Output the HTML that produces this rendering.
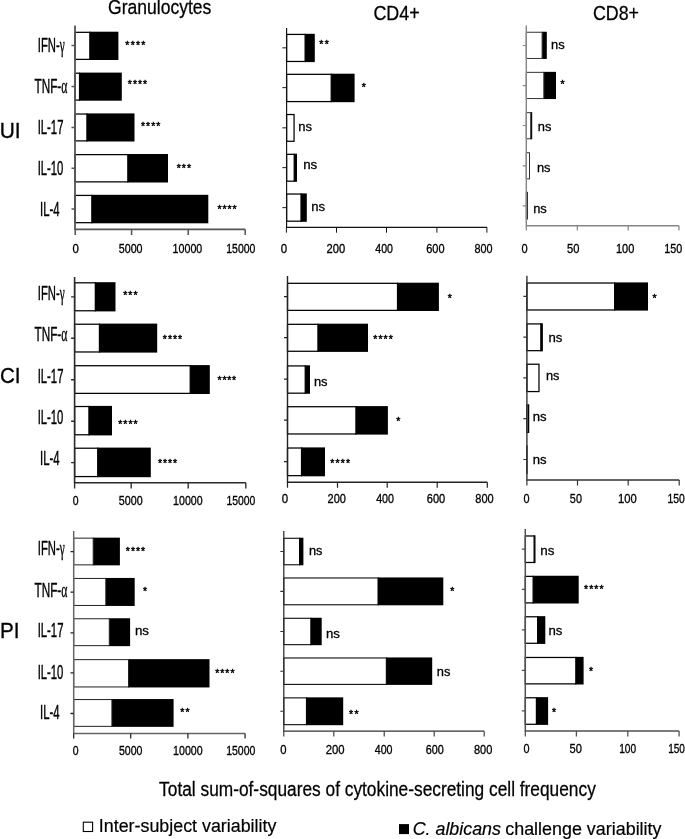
<!DOCTYPE html>
<html lang="en"><head><meta charset="utf-8"><title>Cytokine variability</title>
<style>html,body{margin:0;padding:0;background:#fff}body{width:685px;height:839px;overflow:hidden}svg{display:block;filter:blur(0.4px)}text{font-family:"Liberation Sans", sans-serif;fill:#000}</style>
</head><body>
<svg width="685" height="839" viewBox="0 0 685 839">
<rect width="685" height="839" fill="#fff"/>
<text transform="translate(108.12 14.10) scale(0.9086 1)" font-size="19.3" stroke="#000" stroke-width="0.25" vector-effect="non-scaling-stroke">Granulocytes</text>
<text transform="translate(373.39 19.70) scale(0.8824 1)" font-size="20.3" stroke="#000" stroke-width="0.25" vector-effect="non-scaling-stroke">CD4+</text>
<text transform="translate(592.89 19.50) scale(0.8784 1)" font-size="20.3" stroke="#000" stroke-width="0.25" vector-effect="non-scaling-stroke">CD8+</text>
<text transform="translate(-0.32 137.90) scale(0.9610 1)" font-size="21.8" stroke="#000" stroke-width="0.3" vector-effect="non-scaling-stroke">UI</text>
<text transform="translate(-0.05 382.90) scale(0.9475 1)" font-size="21.8" stroke="#000" stroke-width="0.3" vector-effect="non-scaling-stroke">CI</text>
<text transform="translate(-0.09 637.60) scale(0.9466 1)" font-size="21.8" stroke="#000" stroke-width="0.3" vector-effect="non-scaling-stroke">PI</text>
<text transform="translate(37.86 51.70) scale(0.5554 1)" font-size="20.3" stroke="#000" stroke-width="0.35" vector-effect="non-scaling-stroke">IFN-<tspan font-family="'Liberation Serif', serif">γ</tspan></text>
<text transform="translate(34.54 92.90) scale(0.5774 1)" font-size="20.3" stroke="#000" stroke-width="0.35" vector-effect="non-scaling-stroke">TNF-<tspan font-family="'Liberation Serif', serif">α</tspan></text>
<text transform="translate(37.65 134.10) scale(0.5579 1)" font-size="20.3" stroke="#000" stroke-width="0.35" vector-effect="non-scaling-stroke">IL-17</text>
<text transform="translate(37.66 175.00) scale(0.5550 1)" font-size="20.3" stroke="#000" stroke-width="0.35" vector-effect="non-scaling-stroke">IL-10</text>
<text transform="translate(40.05 216.10) scale(0.5598 1)" font-size="20.3" stroke="#000" stroke-width="0.35" vector-effect="non-scaling-stroke">IL-4</text>
<text transform="translate(37.86 299.60) scale(0.5554 1)" font-size="20.3" stroke="#000" stroke-width="0.35" vector-effect="non-scaling-stroke">IFN-<tspan font-family="'Liberation Serif', serif">γ</tspan></text>
<text transform="translate(34.54 341.00) scale(0.5774 1)" font-size="20.3" stroke="#000" stroke-width="0.35" vector-effect="non-scaling-stroke">TNF-<tspan font-family="'Liberation Serif', serif">α</tspan></text>
<text transform="translate(37.65 382.70) scale(0.5579 1)" font-size="20.3" stroke="#000" stroke-width="0.35" vector-effect="non-scaling-stroke">IL-17</text>
<text transform="translate(37.66 424.10) scale(0.5550 1)" font-size="20.3" stroke="#000" stroke-width="0.35" vector-effect="non-scaling-stroke">IL-10</text>
<text transform="translate(40.05 465.30) scale(0.5598 1)" font-size="20.3" stroke="#000" stroke-width="0.35" vector-effect="non-scaling-stroke">IL-4</text>
<text transform="translate(37.86 555.40) scale(0.5554 1)" font-size="20.3" stroke="#000" stroke-width="0.35" vector-effect="non-scaling-stroke">IFN-<tspan font-family="'Liberation Serif', serif">γ</tspan></text>
<text transform="translate(34.54 596.60) scale(0.5774 1)" font-size="20.3" stroke="#000" stroke-width="0.35" vector-effect="non-scaling-stroke">TNF-<tspan font-family="'Liberation Serif', serif">α</tspan></text>
<text transform="translate(37.65 637.20) scale(0.5579 1)" font-size="20.3" stroke="#000" stroke-width="0.35" vector-effect="non-scaling-stroke">IL-17</text>
<text transform="translate(37.66 678.60) scale(0.5550 1)" font-size="20.3" stroke="#000" stroke-width="0.35" vector-effect="non-scaling-stroke">IL-10</text>
<text transform="translate(40.05 719.30) scale(0.5598 1)" font-size="20.3" stroke="#000" stroke-width="0.35" vector-effect="non-scaling-stroke">IL-4</text>
<rect x="89.20" y="31.70" width="29.20" height="28.30" fill="#000"/>
<rect x="75.00" y="32.33" width="14.83" height="27.05" fill="#fff" stroke="#000" stroke-width="1.25"/>
<rect x="78.90" y="72.60" width="42.90" height="28.10" fill="#000"/>
<rect x="75.00" y="73.22" width="4.53" height="26.85" fill="#fff" stroke="#000" stroke-width="1.25"/>
<rect x="86.30" y="113.40" width="48.20" height="28.10" fill="#000"/>
<rect x="75.00" y="114.03" width="11.92" height="26.85" fill="#fff" stroke="#000" stroke-width="1.25"/>
<rect x="127.20" y="154.00" width="40.80" height="28.50" fill="#000"/>
<rect x="75.00" y="154.62" width="52.83" height="27.25" fill="#fff" stroke="#000" stroke-width="1.25"/>
<rect x="91.20" y="194.80" width="117.10" height="28.50" fill="#000"/>
<rect x="75.00" y="195.43" width="16.83" height="27.25" fill="#fff" stroke="#000" stroke-width="1.25"/>
<path d="M75.00 25.40V229.30H245.20" fill="none" stroke="#555" stroke-width="1.8"/>
<path d="M75.20 229.30v5.60M131.60 229.30v5.60M188.20 229.30v5.60M245.20 229.30v5.60M75.00 45.60h-3.50M75.00 86.60h-3.50M75.00 127.40h-3.50M75.00 168.20h-3.50M75.00 209.00h-3.50" fill="none" stroke="#555" stroke-width="1.53"/>
<text x="125.33 130.65 135.97 141.28" y="49.08" font-size="10.5" stroke="#000" stroke-width="0.45" stroke-linejoin="round">****</text>
<text x="127.83 132.92 138.00 143.08" y="87.78" font-size="10.5" stroke="#000" stroke-width="0.45" stroke-linejoin="round">****</text>
<text x="141.03 146.08 151.13 156.18" y="130.48" font-size="10.5" stroke="#000" stroke-width="0.45" stroke-linejoin="round">****</text>
<text x="176.63 181.76 186.88" y="171.78" font-size="10.5" stroke="#000" stroke-width="0.45" stroke-linejoin="round">***</text>
<text x="217.53 222.52 227.50 232.48" y="212.78" font-size="10.5" stroke="#000" stroke-width="0.45" stroke-linejoin="round">****</text>
<rect x="304.50" y="33.80" width="10.30" height="28.30" fill="#000"/>
<rect x="286.60" y="34.42" width="18.52" height="27.05" fill="#fff" stroke="#000" stroke-width="1.25"/>
<rect x="330.60" y="73.70" width="24.00" height="28.50" fill="#000"/>
<rect x="286.60" y="74.33" width="44.62" height="27.25" fill="#fff" stroke="#000" stroke-width="1.25"/>
<rect x="286.60" y="114.53" width="7.47" height="26.75" fill="#fff" stroke="#000" stroke-width="1.25"/>
<rect x="293.60" y="153.70" width="3.40" height="28.10" fill="#000"/>
<rect x="286.60" y="154.33" width="7.62" height="26.85" fill="#fff" stroke="#000" stroke-width="1.25"/>
<rect x="300.40" y="193.40" width="6.40" height="28.40" fill="#000"/>
<rect x="286.60" y="194.03" width="14.42" height="27.15" fill="#fff" stroke="#000" stroke-width="1.25"/>
<path d="M286.60 27.90V227.30H486.90" fill="none" stroke="#111" stroke-width="1.15"/>
<path d="M286.40 227.30v5.40M336.50 227.30v5.40M386.50 227.30v5.40M436.90 227.30v5.40M486.90 227.30v5.40M286.60 47.85h-4.20M286.60 87.65h-4.20M286.60 127.85h-4.20M286.60 167.65h-4.20M286.60 207.65h-4.20" fill="none" stroke="#111" stroke-width="0.98"/>
<rect x="541.60" y="31.75" width="5.20" height="27.20" fill="#000"/>
<rect x="526.30" y="32.25" width="15.80" height="26.20" fill="#fff" stroke="#333" stroke-width="1.0"/>
<rect x="543.30" y="71.85" width="12.70" height="27.20" fill="#000"/>
<rect x="526.30" y="72.35" width="17.50" height="26.20" fill="#fff" stroke="#333" stroke-width="1.0"/>
<rect x="530.20" y="112.15" width="2.00" height="27.10" fill="#000"/>
<rect x="526.30" y="112.65" width="4.40" height="26.10" fill="#fff" stroke="#333" stroke-width="1.0"/>
<rect x="526.30" y="152.75" width="3.20" height="26.10" fill="#fff" stroke="#333" stroke-width="1.0"/>
<rect x="526.30" y="192.35" width="1.20" height="26.70" fill="#fff" stroke="#333" stroke-width="1.0"/>
<path d="M526.30 25.50V225.80H679.00" fill="none" stroke="#858585" stroke-width="1.4"/>
<path d="M526.30 225.80v4.80M577.30 225.80v4.80M628.20 225.80v4.80M679.00 225.80v4.80M526.30 45.50h-3.50M526.30 85.60h-3.50M526.30 125.50h-3.50M526.30 165.80h-3.50M526.30 205.80h-3.50" fill="none" stroke="#858585" stroke-width="1.19"/>
<text x="319.23 324.78" y="47.58" font-size="10.5" stroke="#000" stroke-width="0.45" stroke-linejoin="round">**</text>
<text x="361.83" y="90.68" font-size="10.5" stroke="#000" stroke-width="0.45" stroke-linejoin="round">*</text>
<text transform="translate(298.24 131.10) scale(1.0746 1)" font-size="12.1" stroke="#000" stroke-width="0.3" vector-effect="non-scaling-stroke">ns</text>
<text transform="translate(303.22 169.00) scale(1.1006 1)" font-size="12.1" stroke="#000" stroke-width="0.3" vector-effect="non-scaling-stroke">ns</text>
<text transform="translate(311.13 211.00) scale(1.0833 1)" font-size="12.1" stroke="#000" stroke-width="0.3" vector-effect="non-scaling-stroke">ns</text>
<text transform="translate(551.04 48.50) scale(1.0660 1)" font-size="12.1" stroke="#000" stroke-width="0.3" vector-effect="non-scaling-stroke">ns</text>
<text x="560.43" y="88.38" font-size="10.5" stroke="#000" stroke-width="0.45" stroke-linejoin="round">*</text>
<text transform="translate(537.74 130.70) scale(1.0660 1)" font-size="12.1" stroke="#000" stroke-width="0.3" vector-effect="non-scaling-stroke">ns</text>
<text transform="translate(536.94 172.00) scale(1.0660 1)" font-size="12.1" stroke="#000" stroke-width="0.3" vector-effect="non-scaling-stroke">ns</text>
<text transform="translate(533.14 213.20) scale(1.0660 1)" font-size="12.1" stroke="#000" stroke-width="0.3" vector-effect="non-scaling-stroke">ns</text>
<rect x="94.70" y="282.20" width="20.80" height="29.20" fill="#000"/>
<rect x="74.60" y="282.82" width="20.73" height="27.95" fill="#fff" stroke="#000" stroke-width="1.25"/>
<rect x="98.80" y="323.60" width="58.40" height="29.00" fill="#000"/>
<rect x="74.60" y="324.22" width="24.83" height="27.75" fill="#fff" stroke="#000" stroke-width="1.25"/>
<rect x="189.60" y="365.10" width="20.20" height="28.90" fill="#000"/>
<rect x="74.60" y="365.72" width="115.62" height="27.65" fill="#fff" stroke="#000" stroke-width="1.25"/>
<rect x="88.30" y="405.90" width="23.70" height="29.50" fill="#000"/>
<rect x="74.60" y="406.52" width="14.33" height="28.25" fill="#fff" stroke="#000" stroke-width="1.25"/>
<rect x="97.10" y="447.60" width="53.70" height="29.60" fill="#000"/>
<rect x="74.60" y="448.22" width="23.12" height="28.35" fill="#fff" stroke="#000" stroke-width="1.25"/>
<path d="M74.60 276.90V482.80H245.80" fill="none" stroke="#2a2a2a" stroke-width="1.6"/>
<path d="M74.60 482.80v5.60M131.20 482.80v5.60M188.20 482.80v5.60M245.80 482.80v5.60M74.60 296.90h-3.50M74.60 338.30h-3.50M74.60 379.80h-3.50M74.60 421.20h-3.50M74.60 462.60h-3.50" fill="none" stroke="#2a2a2a" stroke-width="1.36"/>
<text x="123.23 128.36 133.48" y="299.08" font-size="10.5" stroke="#000" stroke-width="0.45" stroke-linejoin="round">***</text>
<text x="162.83 167.92 173.00 178.08" y="343.38" font-size="10.5" stroke="#000" stroke-width="0.45" stroke-linejoin="round">****</text>
<text x="217.53 222.38 227.23 232.08" y="384.18" font-size="10.5" stroke="#000" stroke-width="0.45" stroke-linejoin="round">****</text>
<text x="118.23 123.32 128.40 133.48" y="427.98" font-size="10.5" stroke="#000" stroke-width="0.45" stroke-linejoin="round">****</text>
<text x="157.93 162.98 168.03 173.08" y="466.78" font-size="10.5" stroke="#000" stroke-width="0.45" stroke-linejoin="round">****</text>
<rect x="396.90" y="282.70" width="42.00" height="28.30" fill="#000"/>
<rect x="287.50" y="283.32" width="110.02" height="27.05" fill="#fff" stroke="#000" stroke-width="1.25"/>
<rect x="317.30" y="323.70" width="50.70" height="28.20" fill="#000"/>
<rect x="287.50" y="324.32" width="30.43" height="26.95" fill="#fff" stroke="#000" stroke-width="1.25"/>
<rect x="304.60" y="365.30" width="5.40" height="28.50" fill="#000"/>
<rect x="287.50" y="365.92" width="17.73" height="27.25" fill="#fff" stroke="#000" stroke-width="1.25"/>
<rect x="355.30" y="406.10" width="32.60" height="28.50" fill="#000"/>
<rect x="287.50" y="406.72" width="68.43" height="27.25" fill="#fff" stroke="#000" stroke-width="1.25"/>
<rect x="300.90" y="447.40" width="24.10" height="28.90" fill="#000"/>
<rect x="287.50" y="448.02" width="14.02" height="27.65" fill="#fff" stroke="#000" stroke-width="1.25"/>
<path d="M287.50 276.10V482.30H487.30" fill="none" stroke="#222" stroke-width="1.4"/>
<path d="M287.50 482.30v5.50M337.50 482.30v5.50M387.20 482.30v5.50M437.20 482.30v5.50M487.30 482.30v5.50M287.50 296.60h-3.50M287.50 337.60h-3.50M287.50 379.20h-3.50M287.50 420.10h-3.50M287.50 461.60h-3.50" fill="none" stroke="#222" stroke-width="1.19"/>
<text x="447.83" y="302.38" font-size="10.5" stroke="#000" stroke-width="0.45" stroke-linejoin="round">*</text>
<text x="373.23 378.38 383.53 388.68" y="343.38" font-size="10.5" stroke="#000" stroke-width="0.45" stroke-linejoin="round">****</text>
<text x="396.13" y="424.98" font-size="10.5" stroke="#000" stroke-width="0.45" stroke-linejoin="round">*</text>
<text x="330.23 335.48 340.73 345.98" y="466.68" font-size="10.5" stroke="#000" stroke-width="0.45" stroke-linejoin="round">****</text>
<text transform="translate(313.94 386.00) scale(1.0660 1)" font-size="12.1" stroke="#000" stroke-width="0.3" vector-effect="non-scaling-stroke">ns</text>
<rect x="614.00" y="282.40" width="34.00" height="28.20" fill="#000"/>
<rect x="526.90" y="283.02" width="87.73" height="26.95" fill="#fff" stroke="#000" stroke-width="1.25"/>
<rect x="540.20" y="323.30" width="2.70" height="28.00" fill="#000"/>
<rect x="526.90" y="323.92" width="13.93" height="26.75" fill="#fff" stroke="#000" stroke-width="1.25"/>
<rect x="526.90" y="364.22" width="12.08" height="27.35" fill="#fff" stroke="#000" stroke-width="1.25"/>
<rect x="528.00" y="404.40" width="0.60" height="28.60" fill="#000"/>
<rect x="526.90" y="405.02" width="1.73" height="27.35" fill="#fff" stroke="#000" stroke-width="1.25"/>
<rect x="526.90" y="445.92" width="0.05" height="27.35" fill="#fff" stroke="#000" stroke-width="1.25"/>
<path d="M526.90 275.80V480.00H679.20" fill="none" stroke="#333" stroke-width="1.4"/>
<path d="M526.90 480.00v5.60M577.50 480.00v5.60M628.20 480.00v5.60M679.20 480.00v5.60M526.90 296.40h-3.50M526.90 337.20h-3.50M526.90 377.80h-3.50M526.90 418.60h-3.50M526.90 459.50h-3.50" fill="none" stroke="#333" stroke-width="1.19"/>
<text x="652.43" y="302.38" font-size="10.5" stroke="#000" stroke-width="0.45" stroke-linejoin="round">*</text>
<text transform="translate(548.42 341.80) scale(1.0920 1)" font-size="12.1" stroke="#000" stroke-width="0.3" vector-effect="non-scaling-stroke">ns</text>
<text transform="translate(545.95 380.00) scale(1.0573 1)" font-size="12.1" stroke="#000" stroke-width="0.3" vector-effect="non-scaling-stroke">ns</text>
<text transform="translate(532.63 421.40) scale(1.0833 1)" font-size="12.1" stroke="#000" stroke-width="0.3" vector-effect="non-scaling-stroke">ns</text>
<text transform="translate(532.63 463.50) scale(1.0833 1)" font-size="12.1" stroke="#000" stroke-width="0.3" vector-effect="non-scaling-stroke">ns</text>
<rect x="92.70" y="537.65" width="27.20" height="27.70" fill="#000"/>
<rect x="73.70" y="538.15" width="19.50" height="26.70" fill="#fff" stroke="#222" stroke-width="1.0"/>
<rect x="105.30" y="577.95" width="29.40" height="28.00" fill="#000"/>
<rect x="73.70" y="578.45" width="32.10" height="27.00" fill="#fff" stroke="#222" stroke-width="1.0"/>
<rect x="108.80" y="618.25" width="21.30" height="27.90" fill="#000"/>
<rect x="73.70" y="618.75" width="35.60" height="26.90" fill="#fff" stroke="#222" stroke-width="1.0"/>
<rect x="128.00" y="659.15" width="81.50" height="28.30" fill="#000"/>
<rect x="73.70" y="659.65" width="54.80" height="27.30" fill="#fff" stroke="#222" stroke-width="1.0"/>
<rect x="111.40" y="699.05" width="62.20" height="27.80" fill="#000"/>
<rect x="73.70" y="699.55" width="38.20" height="26.80" fill="#fff" stroke="#222" stroke-width="1.0"/>
<path d="M73.70 531.00V733.40H245.10" fill="none" stroke="#666" stroke-width="1.5"/>
<path d="M73.70 733.40v5.20M130.70 733.40v5.20M187.90 733.40v5.20M245.10 733.40v5.20M73.70 551.70h-3.20M73.70 592.10h-3.20M73.70 632.80h-3.20M73.70 672.90h-3.20M73.70 713.50h-3.20" fill="none" stroke="#222" stroke-width="1.27"/>
<text x="125.83 130.92 136.00 141.08" y="554.58" font-size="10.5" stroke="#000" stroke-width="0.45" stroke-linejoin="round">****</text>
<text x="143.03" y="594.88" font-size="10.5" stroke="#000" stroke-width="0.45" stroke-linejoin="round">*</text>
<text x="215.13 220.22 225.30 230.38" y="677.48" font-size="10.5" stroke="#000" stroke-width="0.45" stroke-linejoin="round">****</text>
<text x="180.13 185.38" y="716.08" font-size="10.5" stroke="#000" stroke-width="0.45" stroke-linejoin="round">**</text>
<text transform="translate(134.92 634.70) scale(1.1006 1)" font-size="12.1" stroke="#000" stroke-width="0.3" vector-effect="non-scaling-stroke">ns</text>
<rect x="299.00" y="537.75" width="4.40" height="27.55" fill="#000"/>
<rect x="283.80" y="538.27" width="15.72" height="26.50" fill="#fff" stroke="#000" stroke-width="1.05"/>
<rect x="377.50" y="577.45" width="65.80" height="27.85" fill="#000"/>
<rect x="283.80" y="577.98" width="94.22" height="26.80" fill="#fff" stroke="#000" stroke-width="1.05"/>
<rect x="310.30" y="617.75" width="11.40" height="27.45" fill="#000"/>
<rect x="283.80" y="618.27" width="27.02" height="26.40" fill="#fff" stroke="#000" stroke-width="1.05"/>
<rect x="385.80" y="657.45" width="46.40" height="27.45" fill="#000"/>
<rect x="283.80" y="657.98" width="102.52" height="26.40" fill="#fff" stroke="#000" stroke-width="1.05"/>
<rect x="305.90" y="697.35" width="37.30" height="27.85" fill="#000"/>
<rect x="283.80" y="697.88" width="22.62" height="26.80" fill="#fff" stroke="#000" stroke-width="1.05"/>
<path d="M283.80 531.10V731.20H484.20" fill="none" stroke="#333" stroke-width="1.3"/>
<path d="M283.80 731.20v5.20M333.80 731.20v5.20M384.20 731.20v5.20M434.20 731.20v5.20M484.20 731.20v5.20M283.80 551.50h-3.50M283.80 591.40h-3.50M283.80 631.50h-3.50M283.80 671.20h-3.50M283.80 711.30h-3.50" fill="none" stroke="#333" stroke-width="1.10"/>
<text x="450.13" y="595.38" font-size="10.5" stroke="#000" stroke-width="0.45" stroke-linejoin="round">*</text>
<text x="349.03 354.38" y="718.08" font-size="10.5" stroke="#000" stroke-width="0.45" stroke-linejoin="round">**</text>
<text transform="translate(308.95 555.30) scale(1.0573 1)" font-size="12.1" stroke="#000" stroke-width="0.3" vector-effect="non-scaling-stroke">ns</text>
<text transform="translate(326.02 637.60) scale(1.0920 1)" font-size="12.1" stroke="#000" stroke-width="0.3" vector-effect="non-scaling-stroke">ns</text>
<text transform="translate(436.84 675.60) scale(1.0660 1)" font-size="12.1" stroke="#000" stroke-width="0.3" vector-effect="non-scaling-stroke">ns</text>
<rect x="533.50" y="535.35" width="2.00" height="27.75" fill="#000"/>
<rect x="525.30" y="535.98" width="8.83" height="26.50" fill="#fff" stroke="#000" stroke-width="1.25"/>
<rect x="532.50" y="575.75" width="46.20" height="27.75" fill="#000"/>
<rect x="525.30" y="576.38" width="7.83" height="26.50" fill="#fff" stroke="#000" stroke-width="1.25"/>
<rect x="537.00" y="616.15" width="8.30" height="27.75" fill="#000"/>
<rect x="525.30" y="616.78" width="12.33" height="26.50" fill="#fff" stroke="#000" stroke-width="1.25"/>
<rect x="575.20" y="656.85" width="8.40" height="27.65" fill="#000"/>
<rect x="525.30" y="657.48" width="50.53" height="26.40" fill="#fff" stroke="#000" stroke-width="1.25"/>
<rect x="535.80" y="697.15" width="12.30" height="27.75" fill="#000"/>
<rect x="525.30" y="697.78" width="11.12" height="26.50" fill="#fff" stroke="#000" stroke-width="1.25"/>
<path d="M525.30 529.00V731.10H679.10" fill="none" stroke="#505050" stroke-width="1.5"/>
<path d="M525.30 731.10v5.30M576.40 731.10v5.30M627.80 731.10v5.30M679.10 731.10v5.30M525.30 549.10h-3.50M525.30 589.40h-3.50M525.30 629.80h-3.50M525.30 670.30h-3.50M525.30 710.80h-3.50" fill="none" stroke="#505050" stroke-width="1.27"/>
<text x="583.93 589.15 594.37 599.58" y="592.98" font-size="10.5" stroke="#000" stroke-width="0.45" stroke-linejoin="round">****</text>
<text x="589.03" y="674.58" font-size="10.5" stroke="#000" stroke-width="0.45" stroke-linejoin="round">*</text>
<text x="552.03" y="716.08" font-size="10.5" stroke="#000" stroke-width="0.45" stroke-linejoin="round">*</text>
<text transform="translate(540.31 555.40) scale(1.1093 1)" font-size="12.1" stroke="#000" stroke-width="0.3" vector-effect="non-scaling-stroke">ns</text>
<text transform="translate(548.42 635.00) scale(1.0920 1)" font-size="12.1" stroke="#000" stroke-width="0.3" vector-effect="non-scaling-stroke">ns</text>
<text transform="translate(72.45 253.10) scale(0.9354 1)" font-size="12.3" stroke="#000" stroke-width="0.3" vector-effect="non-scaling-stroke">0</text>
<text transform="translate(118.77 253.10) scale(0.8716 1)" font-size="12.3" stroke="#000" stroke-width="0.3" vector-effect="non-scaling-stroke">5000</text>
<text transform="translate(172.59 253.10) scale(0.8693 1)" font-size="12.3" stroke="#000" stroke-width="0.3" vector-effect="non-scaling-stroke">10000</text>
<text transform="translate(226.30 253.10) scale(0.8510 1)" font-size="12.3" stroke="#000" stroke-width="0.3" vector-effect="non-scaling-stroke">15000</text>
<text transform="translate(280.85 253.20) scale(0.9354 1)" font-size="12.3" stroke="#000" stroke-width="0.3" vector-effect="non-scaling-stroke">0</text>
<text transform="translate(326.44 253.20) scale(0.9113 1)" font-size="12.3" stroke="#000" stroke-width="0.3" vector-effect="non-scaling-stroke">200</text>
<text transform="translate(375.26 253.20) scale(0.8604 1)" font-size="12.3" stroke="#000" stroke-width="0.3" vector-effect="non-scaling-stroke">400</text>
<text transform="translate(426.14 253.20) scale(0.8961 1)" font-size="12.3" stroke="#000" stroke-width="0.3" vector-effect="non-scaling-stroke">600</text>
<text transform="translate(474.53 253.20) scale(0.8817 1)" font-size="12.3" stroke="#000" stroke-width="0.3" vector-effect="non-scaling-stroke">800</text>
<text transform="translate(521.47 253.00) scale(0.9014 1)" font-size="12.3" stroke="#000" stroke-width="0.3" vector-effect="non-scaling-stroke">0</text>
<text transform="translate(567.05 253.00) scale(0.9049 1)" font-size="12.3" stroke="#000" stroke-width="0.3" vector-effect="non-scaling-stroke">50</text>
<text transform="translate(615.96 253.00) scale(0.8951 1)" font-size="12.3" stroke="#000" stroke-width="0.3" vector-effect="non-scaling-stroke">100</text>
<text transform="translate(664.18 253.00) scale(0.8741 1)" font-size="12.3" stroke="#000" stroke-width="0.3" vector-effect="non-scaling-stroke">150</text>
<text transform="translate(72.69 504.80) scale(0.8504 1)" font-size="12.3" stroke="#000" stroke-width="0.3" vector-effect="non-scaling-stroke">0</text>
<text transform="translate(118.87 504.80) scale(0.8716 1)" font-size="12.3" stroke="#000" stroke-width="0.3" vector-effect="non-scaling-stroke">5000</text>
<text transform="translate(173.09 504.80) scale(0.8632 1)" font-size="12.3" stroke="#000" stroke-width="0.3" vector-effect="non-scaling-stroke">10000</text>
<text transform="translate(226.51 504.80) scale(0.8449 1)" font-size="12.3" stroke="#000" stroke-width="0.3" vector-effect="non-scaling-stroke">15000</text>
<text transform="translate(281.75 503.00) scale(0.9354 1)" font-size="12.3" stroke="#000" stroke-width="0.3" vector-effect="non-scaling-stroke">0</text>
<text transform="translate(327.55 503.00) scale(0.8958 1)" font-size="12.3" stroke="#000" stroke-width="0.3" vector-effect="non-scaling-stroke">200</text>
<text transform="translate(376.15 503.00) scale(0.8705 1)" font-size="12.3" stroke="#000" stroke-width="0.3" vector-effect="non-scaling-stroke">400</text>
<text transform="translate(426.74 503.00) scale(0.9013 1)" font-size="12.3" stroke="#000" stroke-width="0.3" vector-effect="non-scaling-stroke">600</text>
<text transform="translate(475.32 503.00) scale(0.8971 1)" font-size="12.3" stroke="#000" stroke-width="0.3" vector-effect="non-scaling-stroke">800</text>
<text transform="translate(523.58 502.50) scale(0.8844 1)" font-size="12.3" stroke="#000" stroke-width="0.3" vector-effect="non-scaling-stroke">0</text>
<text transform="translate(569.87 502.50) scale(0.8813 1)" font-size="12.3" stroke="#000" stroke-width="0.3" vector-effect="non-scaling-stroke">50</text>
<text transform="translate(618.04 502.50) scale(0.9160 1)" font-size="12.3" stroke="#000" stroke-width="0.3" vector-effect="non-scaling-stroke">100</text>
<text transform="translate(667.61 502.50) scale(0.8427 1)" font-size="12.3" stroke="#000" stroke-width="0.3" vector-effect="non-scaling-stroke">150</text>
<text transform="translate(72.69 754.80) scale(0.8504 1)" font-size="12.3" stroke="#000" stroke-width="0.3" vector-effect="non-scaling-stroke">0</text>
<text transform="translate(118.88 754.80) scale(0.8602 1)" font-size="12.3" stroke="#000" stroke-width="0.3" vector-effect="non-scaling-stroke">5000</text>
<text transform="translate(173.09 754.80) scale(0.8632 1)" font-size="12.3" stroke="#000" stroke-width="0.3" vector-effect="non-scaling-stroke">10000</text>
<text transform="translate(226.20 754.80) scale(0.8540 1)" font-size="12.3" stroke="#000" stroke-width="0.3" vector-effect="non-scaling-stroke">15000</text>
<text transform="translate(280.36 753.70) scale(0.9184 1)" font-size="12.3" stroke="#000" stroke-width="0.3" vector-effect="non-scaling-stroke">0</text>
<text transform="translate(325.73 753.70) scale(0.9216 1)" font-size="12.3" stroke="#000" stroke-width="0.3" vector-effect="non-scaling-stroke">200</text>
<text transform="translate(374.76 753.70) scale(0.8654 1)" font-size="12.3" stroke="#000" stroke-width="0.3" vector-effect="non-scaling-stroke">400</text>
<text transform="translate(425.65 753.70) scale(0.8807 1)" font-size="12.3" stroke="#000" stroke-width="0.3" vector-effect="non-scaling-stroke">600</text>
<text transform="translate(473.92 753.70) scale(0.8971 1)" font-size="12.3" stroke="#000" stroke-width="0.3" vector-effect="non-scaling-stroke">800</text>
<text transform="translate(523.58 753.20) scale(0.8844 1)" font-size="12.3" stroke="#000" stroke-width="0.3" vector-effect="non-scaling-stroke">0</text>
<text transform="translate(569.55 753.20) scale(0.9049 1)" font-size="12.3" stroke="#000" stroke-width="0.3" vector-effect="non-scaling-stroke">50</text>
<text transform="translate(619.13 753.20) scale(0.8270 1)" font-size="12.3" stroke="#000" stroke-width="0.3" vector-effect="non-scaling-stroke">100</text>
<text transform="translate(668.13 753.20) scale(0.8166 1)" font-size="12.3" stroke="#000" stroke-width="0.3" vector-effect="non-scaling-stroke">150</text>
<text transform="translate(159.11 795.50) scale(0.8326 1)" font-size="20.8" stroke="#000" stroke-width="0.25" vector-effect="non-scaling-stroke">Total sum-of-squares of cytokine-secreting cell frequency</text>
<rect x="83.3" y="822.2" width="9.3" height="9.3" fill="#fff" stroke="#000" stroke-width="1.1"/>
<text transform="translate(98.85 831.80) scale(0.9395 1)" font-size="19" stroke="#000" stroke-width="0.2" vector-effect="non-scaling-stroke">Inter-subject variability</text>
<rect x="399.0" y="824.1" width="10.0" height="10.0" fill="#000"/>
<text transform="translate(412.72 835.00) scale(0.9439 1)" font-size="18.9" font-style="italic" stroke="#000" stroke-width="0.2" vector-effect="non-scaling-stroke">C. albicans</text>
<text transform="translate(505.24 835.00) scale(0.9476 1)" font-size="18.9" stroke="#000" stroke-width="0.2" vector-effect="non-scaling-stroke">challenge variability</text>
</svg></body></html>
